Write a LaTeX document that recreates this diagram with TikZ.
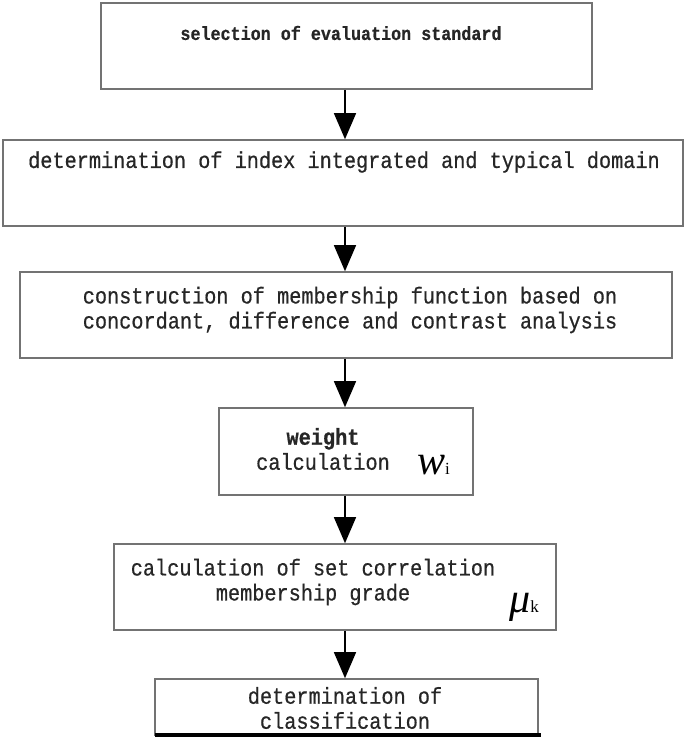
\documentclass[tikz,border=0pt]{standalone}
\usepackage{fontspec}
\setmainfont{Liberation Serif}
\setmonofont{Liberation Mono}[FakeStretch=0.88, FakeBold=0.6]
\usetikzlibrary{arrows.meta}
\tikzset{
  box/.style={draw=black!55, line width=1.6pt, fill=white, inner sep=0pt},
  txt/.style={font=\fontsize{23}{25}\selectfont\ttfamily, align=center, inner sep=0pt, text=black!85},
  flow/.style={line width=1.4pt, -{Triangle[width=22pt,length=26pt]}},
  mathsym/.style={inner sep=0pt, font=\fontsize{42}{42}\selectfont\itshape}
}
\begin{document}
\begin{tikzpicture}[x=1pt,y=-1pt]
\useasboundingbox (0,0) rectangle (685,737);
% boxes
\node[box, minimum width=491pt, minimum height=86pt] (b1) at (346.5,46) {};
\node[box, minimum width=680pt, minimum height=86pt] (b2) at (343,183) {};
\node[box, minimum width=652pt, minimum height=86pt] (b3) at (346,315) {};
\node[box, minimum width=254pt, minimum height=87pt] (b4) at (346,451.5) {};
\node[box, minimum width=442pt, minimum height=86pt] (b5) at (335,587) {};
\node[box, minimum width=383pt, minimum height=56pt] (b6) at (346.5,707) {};
% thick base line of last box
\coordinate (l6a) at (155,735);
\coordinate (l6b) at (541,735);
\draw[line width=4pt] (l6a) -- (l6b);
% texts
\node[txt, font=\fontsize{19}{20}\selectfont\ttfamily\bfseries] (t1) at (341,33) {selection of evaluation standard};
\node[txt] (t2) at (344,162) {determination of index integrated and typical domain};
\node[txt] (t3) at (350,310) {construction of membership function based on\\concordant, difference and contrast analysis};
\node[txt] (t4) at (323,449) {\textbf{weight}\\calculation};
\node[mathsym, anchor=base west] (w4) at (417,474) {w\kern0pt{\fontsize{17}{17}\selectfont\upshape i}};
\node[txt] (t5) at (313,582) {calculation of set correlation\\membership grade};
\node[mathsym, anchor=base west] (m5) at (509,612) {μ{\fontsize{17}{17}\selectfont\upshape k}};
\node[txt] (t6) at (345,708) {determination of\\classification};
% arrows
\draw[flow] (b1.south -| 345,0) -- (b2.north -| 345,0);
\draw[flow] (b2.south -| 345,0) -- (b3.north -| 345,0);
\draw[flow] (b3.south -| 345,0) -- (b4.north -| 345,0);
\draw[flow] (b4.south -| 345,0) -- (b5.north -| 345,0);
\draw[flow] (b5.south -| 345,0) -- (b6.north -| 345,0);
\end{tikzpicture}
\end{document}
